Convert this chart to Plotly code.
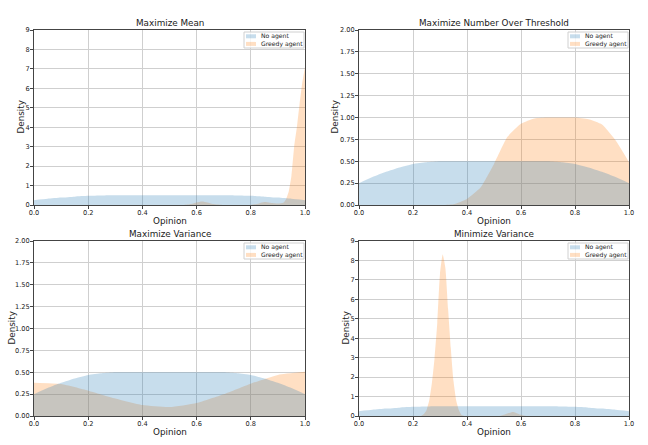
import plotly.graph_objects as go

# ---- data ----
no_agent_x = [0.0, 0.05, 0.1, 0.15, 0.2, 0.25, 0.3, 0.4, 0.5, 0.6, 0.7, 0.75, 0.8, 0.85, 0.9, 0.95, 1.0]
no_agent_y = [0.25, 0.32, 0.38, 0.43, 0.47, 0.49, 0.5, 0.5, 0.5, 0.5, 0.5, 0.49, 0.47, 0.43, 0.38, 0.32, 0.25]

mean_x = [0.0, 0.55, 0.58, 0.6, 0.62, 0.64, 0.66, 0.7, 0.8, 0.83, 0.85, 0.87, 0.9, 0.92, 0.93, 0.94, 0.95, 0.96, 0.97, 0.98, 0.99, 1.0]
mean_y = [0.0, 0.0, 0.05, 0.13, 0.18, 0.13, 0.05, 0.0, 0.0, 0.08, 0.15, 0.12, 0.08, 0.12, 0.3, 0.7, 1.5, 3.0, 4.0, 5.2, 6.3, 7.1]

thr_x = [0.0, 0.3, 0.35, 0.4, 0.45, 0.5, 0.55, 0.6, 0.65, 0.7, 0.75, 0.8, 0.85, 0.9, 0.95, 1.0]
thr_y = [0.0, 0.0, 0.01, 0.07, 0.2, 0.47, 0.78, 0.93, 0.99, 1.0, 1.0, 1.0, 0.98, 0.92, 0.74, 0.49]

maxvar_x = [0.0, 0.1, 0.2, 0.3, 0.4, 0.5, 0.6, 0.7, 0.8, 0.9, 1.0]
maxvar_y = [0.38, 0.365, 0.29, 0.2, 0.125, 0.103, 0.15, 0.25, 0.37, 0.47, 0.505]

minvar_x = [0.0, 0.23, 0.24, 0.25, 0.26, 0.27, 0.28, 0.29, 0.3, 0.31, 0.32, 0.33, 0.34, 0.35, 0.36, 0.37, 0.38, 0.39,
            0.52, 0.54, 0.56, 0.57, 0.58, 0.6, 0.62, 1.0]
minvar_y = [0.0, 0.0, 0.1, 0.3, 0.8, 1.7, 3.0, 4.8, 7.3, 8.3, 7.6, 5.5, 3.5, 1.8, 0.8, 0.3, 0.05, 0.0,
            0.0, 0.08, 0.17, 0.2, 0.17, 0.06, 0.0, 0.0]

titles = ["Maximize Mean", "Maximize Number Over Threshold", "Maximize Variance", "Minimize Variance"]
series_names = ["No agent", "Greedy agent"]
greedy_x = [mean_x, thr_x, maxvar_x, minvar_x]
greedy_y = [mean_y, thr_y, maxvar_y, minvar_y]
y_max = [9, 2, 2, 9]
y_step = [1, 0.25, 0.25, 1]

BLUE = "rgba(31,119,180,0.25)"
ORANGE = "rgba(255,127,14,0.25)"
FONT = "DejaVu Sans"
TXT = "#1a1a1a"
W, H = 648, 445
FS = 8.8      # title / axis label font size
TFS = 6.6     # tick font
LFS = 6.1     # legend font

# plot area pixel boxes (left, right, top, bottom)
boxes = [(34, 305, 30, 205), (359, 629, 30, 205), (34, 305, 241, 416), (359, 629, 241, 416)]
density_offset = [13, 24, 23, 14]


def px(x):
    return x / W


def py(y):
    return 1 - y / H


fig = go.Figure()
annotations = []
shapes = []
layout = dict(
    width=W, height=H,
    margin=dict(l=0, r=0, t=0, b=0),
    paper_bgcolor="white", plot_bgcolor="white",
    font=dict(family=FONT, color=TXT),
    showlegend=False,
)

for i in range(4):
    k = "" if i == 0 else str(i + 1)
    xa, ya = "x" + k, "y" + k
    l, r, t, b = boxes[i]
    xdom = [px(l), px(r)]
    ydom = [py(b), py(t)]
    fig.add_trace(go.Scatter(x=greedy_x[i], y=greedy_y[i], mode="lines", fill="tozeroy",
                             line=dict(width=0, shape="spline", smoothing=0.5), fillcolor=ORANGE,
                             name=series_names[1], xaxis=xa, yaxis=ya, hoverinfo="skip"))
    fig.add_trace(go.Scatter(x=no_agent_x, y=no_agent_y, mode="lines", fill="tozeroy",
                             line=dict(width=0, shape="spline", smoothing=0.5), fillcolor=BLUE,
                             name=series_names[0], xaxis=xa, yaxis=ya, hoverinfo="skip"))
    axcommon = dict(showgrid=True, gridcolor="#cfcfcf", gridwidth=1, showline=True, linecolor="#444",
                    linewidth=1, mirror=True, ticks="outside", ticklen=3, tickwidth=1, tickcolor="#444",
                    tickfont=dict(size=TFS, family=FONT, color=TXT), zeroline=False, automargin=False)
    layout["xaxis" + k] = dict(axcommon, domain=xdom, range=[0, 1], tickvals=[0, 0.2, 0.4, 0.6, 0.8, 1.0],
                               ticktext=["0.0", "0.2", "0.4", "0.6", "0.8", "1.0"], anchor=ya,
                               ticklabelstandoff=-2)
    n = int(round(y_max[i] / y_step[i]))
    yv = [j * y_step[i] for j in range(n + 1)]
    yt = [str(int(v)) if y_step[i] == 1 else f"{v:.2f}" for v in yv]
    layout["yaxis" + k] = dict(axcommon, domain=ydom, range=[0, y_max[i]], tickvals=yv, ticktext=yt, anchor=xa,
                               ticklabelstandoff=-1)

    # subplot title
    annotations.append(dict(text=titles[i], x=(xdom[0] + xdom[1]) / 2, y=py(t - 0.5), xref="paper",
                            yref="paper", xanchor="center", yanchor="bottom", showarrow=False,
                            font=dict(size=FS, family=FONT, color=TXT)))
    # axis titles
    annotations.append(dict(text="Opinion", x=(xdom[0] + xdom[1]) / 2, y=py(b + 15.5), xref="paper",
                            yref="paper", xanchor="center", yanchor="middle", showarrow=False,
                            font=dict(size=FS, family=FONT, color=TXT)))
    annotations.append(dict(text="Density", x=px(l - density_offset[i]), y=(ydom[0] + ydom[1]) / 2,
                            xref="paper", yref="paper", xanchor="center", yanchor="middle",
                            showarrow=False, textangle=-90, font=dict(size=FS, family=FONT, color=TXT)))

    # legend box (drawn manually to get matplotlib-like compact size)
    bx0, bx1, by0, by1 = r - 61, r - 1, t + 2, t + 18
    shapes.append(dict(type="rect", xref="paper", yref="paper", x0=px(bx0), x1=px(bx1), y0=py(by1), y1=py(by0),
                       line=dict(color="#d0d0d0", width=1), fillcolor="rgba(255,255,255,0.8)", layer="above"))
    for j, (nm, col) in enumerate(zip(series_names, [BLUE, ORANGE])):
        cy = t + 6.3 + j * 7.6
        shapes.append(dict(type="rect", xref="paper", yref="paper", x0=px(bx0 + 2), x1=px(bx0 + 12),
                           y0=py(cy + 2), y1=py(cy - 2), line=dict(width=0), fillcolor=col, layer="above"))
        annotations.append(dict(text=nm, x=px(bx0 + 14.5), y=py(cy), xref="paper", yref="paper",
                                xanchor="left", yanchor="middle", showarrow=False,
                                font=dict(size=LFS, family=FONT, color=TXT)))

layout["annotations"] = annotations
layout["shapes"] = shapes
fig.update_layout(**layout)
fig.write_html("out.html", config={"displayModeBar": False},
               post_script="document.body.style.margin='0';")
